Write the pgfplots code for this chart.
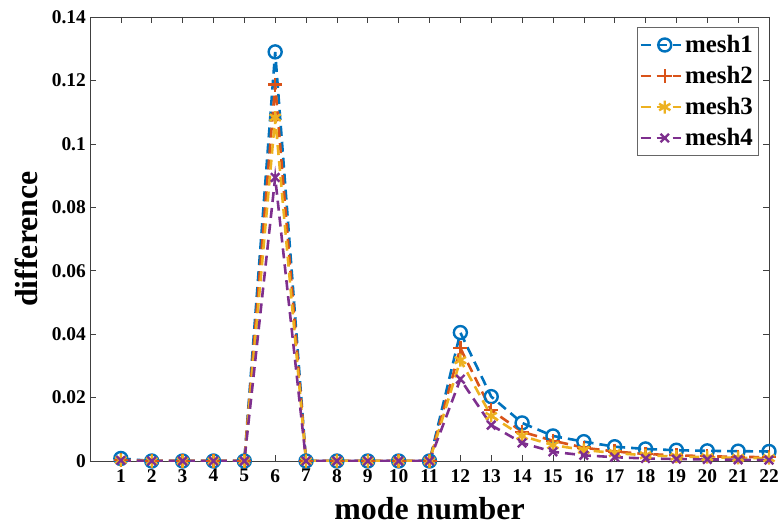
\documentclass[border=0pt]{standalone}
\usepackage{pgfplots}
\pgfplotsset{compat=1.18}
\usepackage{fontspec}
\setmainfont{Liberation Serif}
\definecolor{c1}{rgb}{0,0.447,0.741}
\definecolor{c2}{rgb}{0.85,0.325,0.098}
\definecolor{c3}{rgb}{0.929,0.694,0.125}
\definecolor{c4}{rgb}{0.494,0.184,0.556}
\begin{document}
\begin{tikzpicture}
\useasboundingbox (-90bp,-65bp) rectangle (689bp,461bp);
\begin{axis}[
  at={(0,0)}, anchor=south west,
  scale only axis, width=679bp, height=444bp,
  xmin=0, xmax=22, ymin=0, ymax=0.14,
  xtick={1,...,22}, ytick={0,0.02,...,0.14},
  /pgf/number format/assume math mode=true,
  tick align=inside, major tick length=6bp,
  tick style={color=black!75, line width=0.6pt},
  axis line style={color=black!75, line width=0.6pt},
  ticklabel style={font=\fontsize{19.5}{19.5}\selectfont\bfseries, inner sep=1bp},
  xticklabel style={yshift=-7bp},
  yticklabel style={xshift=-3bp, /pgf/number format/.cd, fixed, precision=2},
  xlabel={mode number}, ylabel={difference},
  label style={font=\fontsize{32}{32}\selectfont\bfseries},
  xlabel style={at={(axis description cs:0.5,0)}, anchor=base, yshift=-58bp, inner sep=0pt},
  ylabel style={yshift=9bp},
  legend style={at={(0.984,0.977)}, anchor=north east, draw=black!60, line width=0.6pt, font=\fontsize{25}{25}\selectfont\bfseries, row sep=0bp, inner sep=2bp,
    nodes={inner sep=3bp, text height=20bp, text depth=5bp}},
  legend cell align=left,
  legend image code/.code={\draw[mark repeat=2, mark phase=2] plot coordinates {(0bp,0bp) (24bp,0bp) (40bp,0bp)};},
  every axis plot/.append style={line width=2.6pt, dash pattern=on 10bp off 6bp},
]
\addplot[c1, mark=o, mark size=6.5bp, mark options={solid, line width=2.4pt}] coordinates {
(1,0.0008)(2,0)(3,0)(4,0)(5,0)(6,0.129)(7,0)(8,0)(9,0)(10,0)(11,0)(12,0.0405)(13,0.0203)(14,0.0120)(15,0.0079)(16,0.0061)(17,0.0045)(18,0.0038)(19,0.0034)(20,0.0032)(21,0.0031)(22,0.0030)};
\addplot[c2, mark=+, mark size=7bp, mark options={solid, line width=2.4pt}] coordinates {
(1,0.0004)(2,0)(3,0)(4,0)(5,0)(6,0.1187)(7,0)(8,0)(9,0)(10,0)(11,0)(12,0.0356)(13,0.0160)(14,0.0092)(15,0.0064)(16,0.0042)(17,0.0030)(18,0.0022)(19,0.0018)(20,0.0015)(21,0.0013)(22,0.0012)};
\addplot[c3, mark=asterisk, mark size=6.5bp, mark options={solid, line width=2.4pt}] coordinates {
(1,0.0003)(2,0)(3,0)(4,0)(5,0)(6,0.1083)(7,0)(8,0)(9,0)(10,0)(11,0)(12,0.0318)(13,0.0142)(14,0.0079)(15,0.0050)(16,0.0035)(17,0.0025)(18,0.0018)(19,0.0014)(20,0.0012)(21,0.0010)(22,0.0009)};
\addplot[c4, mark=x, mark size=6bp, mark options={solid, line width=2.4pt}] coordinates {
(1,0.0002)(2,0)(3,0)(4,0)(5,0)(6,0.0894)(7,0)(8,0)(9,0)(10,0)(11,0)(12,0.0258)(13,0.0113)(14,0.0057)(15,0.0029)(16,0.0018)(17,0.0012)(18,0.0008)(19,0.0006)(20,0.0005)(21,0.0004)(22,0.0003)};
\legend{mesh1,mesh2,mesh3,mesh4}
\end{axis}
\end{tikzpicture}
\end{document}
